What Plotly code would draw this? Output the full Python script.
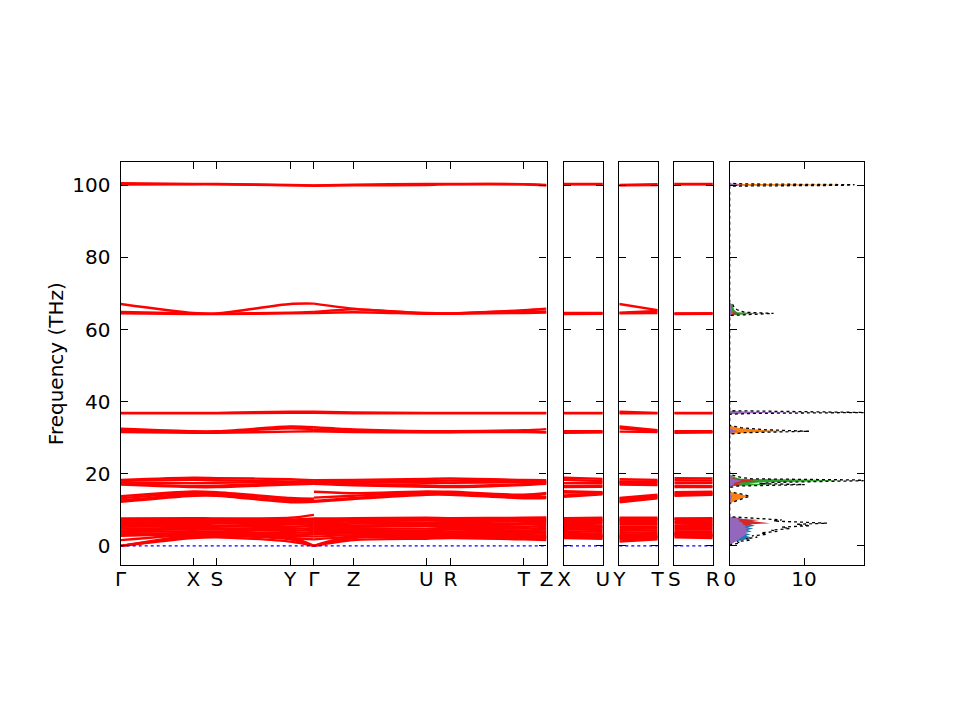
import plotly.graph_objects as go
from plotly.subplots import make_subplots

# band path positions (distance along path) and labels
k_main_a = [0.0, 72.6, 96.0, 169.3, 193.0]          # G X S Y G
k_main_b = [193.0, 232.6, 305.3, 329.3, 402.6, 425.3]  # G Z U R T Z
k_xu = [0.0, 38.6]
k_yt = [0.0, 38.4]
k_sr = [0.0, 38.4]
main_ticks = k_main_a + k_main_b[1:]
main_labels = ["Γ", "X", "S", "Y", "Γ", "Z", "U", "R", "T", "Z"]

# frequencies (THz) of each band at the nodes of each path piece
bands_main_a = [
    [0.0, 2.2, 2.4, 1.2, 0.0], [0.0, 2.6, 2.8, 1.8, 0.0], [0.0, 3.0, 3.2, 2.4, 0.0],
    [1.6, 3.1, 3.1, 2.2, 1.8], [2.8, 3.3, 3.4, 2.8, 2.6], [3.3, 3.6, 3.6, 3.1, 3.3],
    [3.8, 4.1, 4.0, 3.6, 3.9], [4.3, 4.6, 4.5, 4.2, 4.4], [4.8, 5.0, 4.9, 4.7, 5.0],
    [5.3, 5.5, 5.4, 5.3, 5.5], [5.8, 5.9, 5.7, 5.9, 6.0], [6.2, 6.1, 6.3, 6.3, 6.4],
    [6.6, 6.5, 6.6, 6.8, 6.9], [7.0, 6.9, 7.0, 7.1, 7.2], [7.3, 7.4, 7.5, 7.3, 7.6],
    [7.6, 7.7, 7.6, 7.8, 8.6],
    [12.2, 13.9, 13.9, 12.1, 12.2], [12.6, 14.3, 14.2, 12.5, 12.5],
    [13.2, 14.7, 14.6, 13.0, 12.8], [13.8, 15.1, 14.9, 13.3, 13.1],
    [17.0, 16.3, 16.3, 17.0, 17.2], [17.2, 16.6, 16.7, 17.4, 17.5],
    [17.6, 17.4, 17.5, 17.7, 17.7], [18.0, 18.3, 18.2, 17.9, 17.8],
    [18.3, 18.9, 18.8, 18.5, 18.2],
    [31.6, 31.4, 31.4, 31.7, 31.8], [31.9, 31.6, 31.6, 32.6, 32.3],
    [32.5, 31.8, 31.8, 33.1, 32.9],
    [36.8, 36.8, 36.8, 36.9, 36.9], [36.9, 36.9, 36.9, 37.2, 37.2],
    [64.5, 64.3, 64.3, 64.5, 64.6], [64.9, 64.5, 64.4, 64.7, 64.9],
    [67.1, 64.6, 64.5, 67.1, 67.2],
    [100.2, 100.3, 100.3, 100.0, 99.9], [100.6, 100.4, 100.4, 100.1, 100.0],
]
bands_main_b = [
    [0.0, 1.6, 2.0, 2.2, 1.8, 1.6], [0.0, 2.2, 2.4, 2.6, 2.2, 2.1], [0.0, 2.8, 2.8, 3.0, 2.6, 2.6],
    [1.8, 2.5, 2.6, 2.8, 2.4, 2.4], [2.6, 3.0, 3.0, 3.1, 2.9, 3.0], [3.3, 3.4, 3.3, 3.5, 3.3, 3.5],
    [3.9, 3.9, 3.8, 4.0, 3.8, 4.0], [4.4, 4.4, 4.3, 4.5, 4.3, 4.5], [5.0, 4.9, 4.8, 5.0, 4.8, 5.0],
    [5.5, 5.3, 5.5, 5.4, 5.3, 5.5], [6.0, 5.7, 5.9, 5.8, 5.9, 6.0], [6.4, 6.2, 6.3, 6.1, 6.3, 6.5],
    [6.9, 6.7, 6.5, 6.6, 6.8, 6.9], [7.2, 7.0, 7.1, 7.0, 7.2, 7.2], [7.6, 7.4, 7.3, 7.4, 7.5, 7.6],
    [7.5, 7.7, 7.8, 7.7, 7.8, 7.9],
    [12.2, 13.0, 14.2, 14.2, 13.2, 13.3], [12.5, 13.3, 14.5, 14.4, 13.5, 13.6],
    [13.4, 13.9, 14.8, 14.7, 13.8, 14.4], [15.0, 14.6, 15.1, 15.0, 14.2, 14.7],
    [17.2, 16.8, 16.4, 16.3, 16.9, 17.2], [17.5, 17.2, 16.8, 16.6, 17.1, 17.4],
    [17.7, 17.6, 17.5, 17.5, 17.7, 17.8], [17.8, 17.9, 18.0, 18.1, 17.9, 17.9],
    [18.2, 18.3, 18.6, 18.7, 18.3, 18.2],
    [31.8, 31.6, 31.5, 31.5, 31.6, 31.5], [32.3, 31.9, 31.6, 31.6, 31.8, 31.5],
    [32.9, 32.3, 31.8, 31.8, 32.1, 32.4],
    [36.9, 36.8, 36.8, 36.8, 36.8, 36.8], [37.2, 37.0, 36.9, 36.9, 36.9, 36.9],
    [64.6, 64.8, 64.4, 64.4, 64.6, 64.7], [64.9, 65.6, 64.5, 64.5, 65.2, 65.0],
    [67.2, 65.8, 64.6, 64.5, 65.4, 65.8],
    [99.9, 100.0, 100.1, 100.3, 100.3, 100.0], [100.0, 100.2, 100.4, 100.4, 100.3, 100.1],
]
bands_xu = [
    [2.2, 2.0], [2.6, 2.4], [3.0, 2.8], [3.1, 2.6], [3.3, 3.0], [3.6, 3.4], [4.1, 3.9],
    [4.6, 4.4], [5.0, 4.9], [5.5, 5.3], [5.9, 5.7], [6.1, 6.3], [6.5, 6.7], [6.9, 7.1],
    [7.4, 7.3], [7.7, 7.8],
    [13.6, 14.3], [14.0, 14.5], [14.8, 14.7], [15.2, 14.9],
    [16.3, 16.4], [16.6, 16.8], [17.4, 17.5], [18.3, 18.0], [18.9, 18.6],
    [31.4, 31.5], [31.6, 31.6], [31.8, 31.8], [36.8, 36.8], [36.9, 36.9],
    [64.3, 64.4], [64.5, 64.5], [64.6, 64.6], [100.3, 100.3], [100.4, 100.4],
]
bands_yt = [
    [1.2, 1.8], [1.8, 2.2], [2.4, 2.6], [2.2, 2.4], [2.8, 2.9], [3.1, 3.3], [3.6, 3.8],
    [4.2, 4.3], [4.7, 4.8], [5.3, 5.3], [5.9, 5.9], [6.3, 6.3], [6.8, 6.8], [7.1, 7.2],
    [7.3, 7.5], [7.8, 7.8],
    [12.1, 13.2], [12.5, 13.5], [13.0, 13.8], [13.3, 14.2],
    [17.0, 16.9], [17.4, 17.1], [17.7, 17.7], [17.9, 17.9], [18.5, 18.3],
    [31.7, 31.6], [32.6, 31.8], [33.1, 32.1], [36.8, 36.8], [37.2, 36.9],
    [64.5, 64.6], [64.7, 65.2], [67.1, 65.4], [100.0, 100.1], [100.1, 100.3],
]
bands_sr = [
    [2.4, 2.2], [2.8, 2.6], [3.2, 3.0], [3.1, 2.8], [3.4, 3.1], [3.6, 3.5], [4.0, 4.0],
    [4.5, 4.5], [4.9, 5.0], [5.4, 5.4], [5.7, 5.8], [6.3, 6.1], [6.6, 6.6], [7.0, 7.0],
    [7.5, 7.4], [7.6, 7.7],
    [13.9, 14.2], [14.2, 14.4], [14.6, 14.7], [14.9, 15.0],
    [16.3, 16.3], [16.7, 16.6], [17.5, 17.5], [18.2, 18.1], [18.8, 18.7],
    [31.4, 31.5], [31.6, 31.6], [31.8, 31.8], [36.8, 36.8], [36.9, 36.9],
    [64.3, 64.4], [64.4, 64.5], [64.5, 64.5], [100.3, 100.3], [100.4, 100.4],
]

# phonon DOS: frequency grid, total and partial DOS (states/THz)
dos_freq = [0.0, 0.4, 0.8, 1.2, 1.6, 2.0, 2.4, 2.8, 3.2, 3.6, 4.0, 4.4, 4.8, 5.2, 5.6, 6.0,
            6.3, 6.6, 6.9, 7.2, 7.5, 7.8, 8.1,
            11.8, 12.4, 13.0, 13.8, 14.4, 15.0,
            16.2, 16.6, 17.0, 17.3, 17.6, 17.9, 18.1, 18.3, 18.6, 19.0, 19.4, 19.8,
            31.0, 31.4, 31.8, 32.2, 32.8, 33.4,
            36.5, 36.75, 37.0, 37.25, 37.5,
            63.9, 64.2, 64.5, 64.8, 65.5, 66.2, 67.0, 67.5,
            99.8, 100.0, 100.2, 100.4, 100.6]
dos_total = [0, 0.2, 1.4, 1.0, 2.8, 2.2, 3.7, 3.0, 5.0, 4.2, 6.4, 5.6, 8.1, 7.0, 10.8, 9.0,
             13.1, 8.5, 5.9, 7.0, 4.1, 3.0, 0,
             0, 0.8, 1.6, 2.7, 1.5, 0,
             0, 1.0, 10.1, 4.0, 6.0, 14.0, 18.5, 17.0, 3.0, 1.5, 0.5, 0,
             0, 2.0, 10.7, 5.0, 1.5, 0,
             0, 3.0, 18.5, 3.0, 0,
             0, 3.0, 5.9, 2.0, 1.0, 0.6, 0.4, 0,
             0, 15.5, 16.8, 2.0, 0]
pdos_1 = [0, 0, 0.3, 0.8, 1.8, 2.6, 2.8, 2.2, 2.8, 2.0, 3.0, 2.4, 3.2, 2.4, 3.4, 2.6,
          2.4, 2.0, 1.6, 1.8, 1.7, 1.0, 0,
          0, 0, 0, 0, 0, 0,
          0, 0.2, 1.0, 0.6, 1.0, 2.0, 2.0, 1.5, 0.3, 0, 0, 0,
          0, 0.2, 1.0, 0.5, 0, 0,
          0, 0.5, 4.0, 0.5, 0,
          0, 0.3, 0.5, 0.2, 0, 0, 0, 0,
          0, 1.0, 1.0, 0.2, 0]
pdos_2 = [0, 0, 0.2, 0.5, 0.8, 1.0, 1.2, 1.6, 1.4, 1.5, 1.6, 1.4, 1.6, 1.3, 1.2, 1.0,
          0.9, 0.8, 0.7, 0.7, 0.5, 0.3, 0,
          0, 0.6, 1.4, 2.5, 1.3, 0,
          0, 0.2, 1.0, 0.6, 1.0, 3.0, 2.5, 2.0, 0.5, 0, 0, 0,
          0, 1.8, 8.1, 4.0, 1.0, 0,
          0, 0.3, 2.0, 0.3, 0,
          0, 0.2, 0.3, 0.1, 0, 0, 0, 0,
          0, 14.5, 14.5, 1.5, 0]
pdos_3 = [0, 0, 0.2, 0.4, 0.6, 0.8, 1.0, 1.3, 1.5, 1.2, 1.8, 1.5, 1.3, 1.2, 1.5, 2.0,
          1.5, 1.0, 0.9, 0.9, 0.6, 0.3, 0,
          0, 0, 0, 0, 0, 0,
          0, 0.5, 6.4, 2.5, 4.0, 12.0, 15.1, 13.0, 1.5, 0.8, 0.3, 0,
          0, 0, 0.3, 0.1, 0, 0,
          0, 0.3, 1.0, 0.3, 0,
          0, 2.0, 4.1, 1.0, 0.6, 0.5, 0.3, 0,
          0, 0.3, 0.3, 0, 0]
pdos_4 = [0, 0, 0.1, 0.3, 0.5, 0.6, 0.7, 0.8, 0.9, 1.0, 1.0, 1.2, 1.2, 1.5, 2.0, 3.0,
          5.4, 4.0, 3.0, 4.0, 1.5, 0.8, 0,
          0, 0, 0, 0, 0, 0,
          0, 0.3, 1.5, 1.0, 1.5, 4.0, 3.5, 2.5, 0.8, 0.2, 0, 0,
          0, 0, 0.2, 0, 0, 0,
          0, 0.2, 1.0, 0.2, 0,
          0, 0.6, 1.5, 0.4, 0.2, 0.2, 0, 0,
          0, 0.2, 0.2, 0, 0]
pdos_5 = [0, 0.1, 0.5, 0.7, 1.1, 1.3, 1.6, 1.9, 2.2, 2.0, 2.6, 2.1, 2.5, 2.0, 2.2, 1.7,
          1.8, 1.5, 1.2, 1.4, 1.0, 0.8, 0,
          0, 0.1, 0.2, 0.3, 0.1, 0,
          0, 0.2, 0.6, 0.5, 0.8, 1.4, 1.6, 1.2, 0.3, 0.5, 0.2, 0,
          0, 0.3, 1.2, 0.4, 0, 0,
          0, 1.5, 10.8, 1.5, 0,
          0, 0.2, 0.5, 0.3, 0.3, 0.3, 0.1, 0,
          0, 1.8, 1.8, 0.3, 0]
pdos_colors = ["#1f77b4", "#ff7f0e", "#2ca02c", "#d62728", "#9467bd"]

Y_RANGE = [-5.3, 106.4]
FONT = "DejaVu Sans"
PAGE_OFFSET = 8  # default body margin of the html page

fig = make_subplots(rows=1, cols=5)


def add_bands(k, bands, col):
    for vals in bands:
        fig.add_trace(go.Scatter(x=k, y=vals, mode="lines",
                                 line=dict(color="#ff0000", width=2.4, shape="spline", smoothing=0.8),
                                 hoverinfo="skip"), row=1, col=col)


add_bands(k_main_a, bands_main_a, 1)
add_bands(k_main_b, bands_main_b, 1)
add_bands(k_xu, bands_xu, 2)
add_bands(k_yt, bands_yt, 3)
add_bands(k_sr, bands_sr, 4)

# dotted zero line on the band panels
for col, k in [(1, main_ticks), (2, k_xu), (3, k_yt), (4, k_sr)]:
    fig.add_trace(go.Scatter(x=[k[0], k[-1]], y=[0, 0], mode="lines",
                             line=dict(color="#0000ff", width=1.3, dash="dot"),
                             hoverinfo="skip"), row=1, col=col)

for vals, c in zip([pdos_1, pdos_2, pdos_3, pdos_4, pdos_5], pdos_colors):
    fig.add_trace(go.Scatter(x=vals, y=dos_freq, mode="lines", fill="tozerox",
                             fillcolor=c, line=dict(color=c, width=0),
                             hoverinfo="skip"), row=1, col=5)
fig.add_trace(go.Scatter(x=dos_total, y=dos_freq, mode="lines",
                         line=dict(color="black", width=1.3, dash="dot"),
                         hoverinfo="skip"), row=1, col=5)


def xdom(a, b):
    return [(a - PAGE_OFFSET) / 960, (b - PAGE_OFFSET) / 960]


x_domains = [xdom(120.7, 546.5), xdom(564.0, 602.7), xdom(619.3, 657.7),
             xdom(674.3, 712.7), xdom(729.7, 863.7)]
y_domain = [(720 - 565 + PAGE_OFFSET) / 720, (720 - 162.3 + PAGE_OFFSET) / 720]

axis_style = dict(showline=True, linecolor="black", linewidth=1.3, mirror="ticks",
                  ticks="inside", ticklen=7, tickwidth=1.3, tickcolor="black",
                  showgrid=False, zeroline=False, automargin=False,
                  tickfont=dict(family=FONT, size=20, color="black"))

x_specs = [
    dict(range=[0, k_main_b[-1]], tickvals=main_ticks, ticktext=main_labels),
    dict(range=[0, k_xu[-1]], tickvals=k_xu, ticktext=["X", "U"]),
    dict(range=[0, k_yt[-1]], tickvals=k_yt, ticktext=["Y", "T"]),
    dict(range=[0, k_sr[-1]], tickvals=k_sr, ticktext=["S", "R"]),
    dict(range=[0, 18.03], tickvals=[0, 10], ticktext=["0", "10"]),
]
for i in range(5):
    name = "xaxis" if i == 0 else f"xaxis{i + 1}"
    fig.layout[name].update(domain=x_domains[i], ticklabelstandoff=-4, **axis_style, **x_specs[i])
    yname = "yaxis" if i == 0 else f"yaxis{i + 1}"
    fig.layout[yname].update(domain=y_domain, range=Y_RANGE, tickvals=[0, 20, 40, 60, 80, 100],
                             showticklabels=(i == 0), **axis_style)

fig.layout.yaxis.update(ticklabelstandoff=5,
                        title=dict(text="Frequency (THz)", standoff=3,
                                   font=dict(family=FONT, size=20, color="black")))

fig.update_layout(width=960, height=720, showlegend=False,
                  margin=dict(l=0, r=0, t=0, b=0),
                  paper_bgcolor="white", plot_bgcolor="white",
                  font=dict(family=FONT, size=20, color="black"))

fig.write_html("out.html")
